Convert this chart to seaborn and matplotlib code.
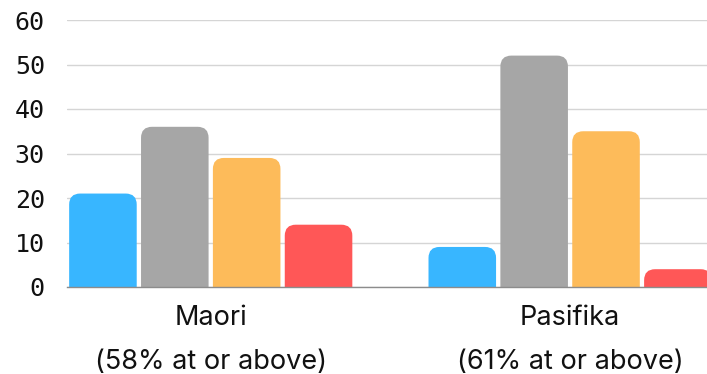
import numpy as np
import pandas as pd
import seaborn as sns
import matplotlib
matplotlib.use("Agg")
import matplotlib.pyplot as plt
from matplotlib.path import Path
from matplotlib.patches import PathPatch

# Chart data
groups = ["Maori", "Pasifika"]
group_notes = ["(58% at or above)", "(61% at or above)"]
series = ["Well below", "Below", "At", "Above"]
maori_values = [21, 36, 29, 14]
pasifika_values = [9, 52, 35, 4]
series_colors = ["#38B6FF", "#A6A6A6", "#FDBB5A", "#FF5757"]
y_ticks = [0, 10, 20, 30, 40, 50, 60]

df = pd.DataFrame({
    "group": np.repeat(groups, len(series)),
    "series": series * len(groups),
    "value": maori_values + pasifika_values,
})

sns.set_theme(style="white")
W, H, DPI = 7.07, 3.74, 100
fig = plt.figure(figsize=(W, H), dpi=DPI)
left, bottom = 67 / 707, (374 - 287) / 374
top = (374 - 20) / 374
ax = fig.add_axes([left, bottom, 1.0 - left, top - bottom])

sns.barplot(data=df, x="group", y="value", hue="series", order=groups,
            hue_order=series, palette=series_colors, saturation=1,
            width=0.8, gap=0.06, legend=False, ax=ax, errorbar=None)

xlim = (-0.4, 1.381)
ylim = (0, 60)
ax.set_xlim(*xlim)
ax.set_ylim(*ylim)

# Replace plain rectangles with bars that have rounded top corners
ax_w_px = (1.0 - left) * W * DPI
ax_h_px = (top - bottom) * H * DPI
px_x = ax_w_px / (xlim[1] - xlim[0])
px_y = ax_h_px / (ylim[1] - ylim[0])
radius_px = 11
rx, ry = radius_px / px_x, radius_px / px_y
bars = list(ax.patches)
for p in bars:
    x0, w, h = p.get_x(), p.get_width(), p.get_height()
    color = p.get_facecolor()
    p.remove()
    r_y = min(ry, h)
    verts = [
        (x0, 0), (x0, h - r_y), (x0, h), (x0 + rx, h),
        (x0 + w - rx, h), (x0 + w, h), (x0 + w, h - r_y),
        (x0 + w, 0), (x0, 0),
    ]
    codes = [Path.MOVETO, Path.LINETO, Path.CURVE3, Path.CURVE3,
             Path.LINETO, Path.CURVE3, Path.CURVE3, Path.LINETO,
             Path.CLOSEPOLY]
    ax.add_patch(PathPatch(Path(verts, codes), facecolor=color,
                           edgecolor="none", zorder=3))

# Grid and axes styling
ax.set_yticks(y_ticks)
ax.yaxis.grid(True, color="#D5D5D5", linewidth=1.0, zorder=0)
ax.set_axisbelow(True)
for side in ["top", "right", "left"]:
    ax.spines[side].set_visible(False)
ax.spines["bottom"].set_color("#8C8C8C")
ax.spines["bottom"].set_linewidth(1.0)
ax.spines["bottom"].set_zorder(4)

ax.set_xlabel("")
ax.set_ylabel("")
ax.set_xticks([0, 1])
ax.set_xticklabels([f"{g}\n{n}" for g, n in zip(groups, group_notes)],
                   family="Inter", fontsize=19.5, color="#111111",
                   linespacing=1.9)
ax.set_yticklabels([str(t) for t in y_ticks], family="DejaVu Sans Mono",
                   fontsize=18, color="#111111")
ax.tick_params(axis="y", length=0, pad=16)
ax.tick_params(axis="x", length=0, pad=13)

fig.savefig("out.png", dpi=DPI)
